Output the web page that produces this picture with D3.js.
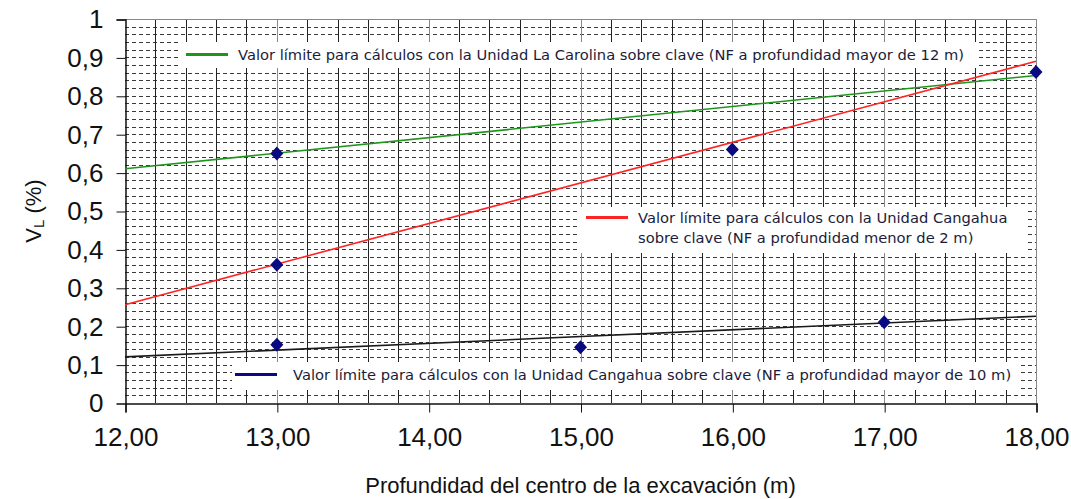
<!DOCTYPE html>
<html>
<head>
<meta charset="utf-8">
<script src="https://cdn.jsdelivr.net/npm/d3@7"></script>
<style>
  body { margin: 0; background: #fff; }
</style>
</head>
<body>
<script>
// data
const xTicks = [12, 13, 14, 15, 16, 17, 18];
const yTicks = [0, 0.1, 0.2, 0.3, 0.4, 0.5, 0.6, 0.7, 0.8, 0.9, 1];
const pointDepth = [13, 13, 13, 15, 16, 17, 18];
const pointVL = [0.65, 0.36, 0.152, 0.145, 0.66, 0.21, 0.862];
// trend lines (value at 12 m and at 18 m)
const trendColors = ["#1e961e", "#ff2424", "#1a1a1a"];
const trendStart = [0.61, 0.256, 0.12];
const trendEnd = [0.853, 0.89, 0.226];
const legendColors = ["#1e961e", "#ff2424", "#0a0a80"];
const legendText = [
  ["Valor límite para cálculos con la Unidad La Carolina sobre clave (NF a profundidad mayor de 12 m)"],
  ["Valor límite para cálculos con la Unidad Cangahua", "sobre clave (NF a profundidad menor de 2 m)"],
  ["Valor límite para cálculos con la Unidad Cangahua sobre clave (NF a profundidad mayor de 10 m)"]
];

let W = 1071, H = 499;
let margins = { left: 125, top: 19, right: 35, bottom: 96 };
let width = W - margins.left - margins.right;
let height = H - margins.top - margins.bottom;

let svg = d3.select("body").append("svg")
  .attr("width", W)
  .attr("height", H);

let locale = d3.formatLocale({ decimal: ",", thousands: ".", grouping: [3], currency: ["", ""] });

let xScale = d3.scaleLinear().domain([12, 18]).range([margins.left, margins.left + width]);
let yScale = d3.scaleLinear().domain([0, 1]).range([margins.top + height, margins.top]);

// horizontal dashed grid every 0.02
let grid = svg.append("g");
grid.selectAll("line.h")
  .data(yScale.ticks(50).filter(d => d > 0))
  .join("line")
  .attr("x1", margins.left)
  .attr("x2", margins.left + width)
  .attr("y1", d => Math.round(yScale(d)) + 0.5)
  .attr("y2", d => Math.round(yScale(d)) + 0.5)
  .attr("stroke", "#3a3a3a")
  .attr("stroke-dasharray", "4,3");

// vertical solid grid every 0.2
grid.selectAll("line.v")
  .data(xScale.ticks(30).filter(d => d > 12))
  .join("line")
  .attr("x1", d => Math.round(xScale(d)) + 0.5)
  .attr("x2", d => Math.round(xScale(d)) + 0.5)
  .attr("y1", margins.top)
  .attr("y2", margins.top + height)
  .attr("stroke", d => Number.isInteger(Math.round(d * 10) / 10) ? "#888" : "#222");

// plot frame top / right
svg.append("path")
  .attr("d", `M${margins.left},${margins.top + 0.5}H${Math.round(xScale(18)) + 0.5}V${margins.top + height}`)
  .attr("fill", "none")
  .attr("stroke", "#888");

// axes
let xAxis = d3.axisBottom(xScale)
  .tickValues(xTicks)
  .tickSize(9)
  .tickFormat(locale.format(".2f"));
let xAxisG = svg.append("g")
  .attr("transform", `translate(0.5, ${Math.round(yScale(0)) + 0.5})`)
  .call(xAxis);

let yAxis = d3.axisLeft(yScale)
  .tickValues(yTicks)
  .tickSize(9)
  .tickFormat(locale.format(".1~f"));
let yAxisG = svg.append("g")
  .attr("transform", `translate(${margins.left + 0.5}, 0.5)`)
  .call(yAxis);

[xAxisG, yAxisG].forEach(g => {
  g.select(".domain").attr("stroke", "#111").attr("stroke-width", 1.5);
  g.selectAll(".tick line").attr("stroke", "#111");
  g.selectAll("text")
    .attr("font-family", "'Liberation Sans', Arial, sans-serif")
    .attr("font-size", 26)
    .attr("fill", "#111");
});
xAxisG.selectAll("text").attr("y", 24).attr("dy", "0.71em");
yAxisG.selectAll("text").attr("x", -22);
yAxisG.selectAll(".tick").filter(d => d === 0).select("line").attr("x2", 0);

// trend lines
svg.append("g").selectAll("line")
  .data(trendColors)
  .join("line")
  .attr("x1", xScale(12))
  .attr("x2", xScale(18))
  .attr("y1", (d, i) => yScale(trendStart[i]))
  .attr("y2", (d, i) => yScale(trendEnd[i]))
  .attr("stroke", d => d)
  .attr("stroke-width", 1.6);

// data points (navy diamonds)
svg.append("g").selectAll("path")
  .data(pointDepth)
  .join("path")
  .attr("transform", (d, i) => `translate(${xScale(d)}, ${yScale(pointVL[i])})`)
  .attr("d", "M0,-7L6.5,0L0,7L-6.5,0Z")
  .attr("fill", "#0a0a80");

// legends: [x, y, w, h] of the white box
let legendBoxes = [[180, 42, 796, 26], [580, 207, 448, 46], [232, 362, 786, 28]];
let legendG = svg.append("g").selectAll("g")
  .data(legendText)
  .join("g")
  .attr("transform", (d, i) => `translate(${legendBoxes[i][0]}, ${legendBoxes[i][1]})`);
legendG.append("rect")
  .attr("width", (d, i) => legendBoxes[i][2])
  .attr("height", (d, i) => legendBoxes[i][3])
  .attr("fill", "#fff");
legendG.append("line")
  .attr("x1", (d, i) => i === 2 ? 3 : 6)
  .attr("x2", (d, i) => i === 2 ? 45 : 48)
  .attr("y1", (d, i) => i === 1 ? 10.5 : 12.5)
  .attr("y2", (d, i) => i === 1 ? 10.5 : 12.5)
  .attr("stroke", (d, i) => legendColors[i])
  .attr("stroke-width", 3);
legendG.each(function (lines, i) {
  let t = d3.select(this).append("text")
    .attr("font-family", "'DejaVu Sans', Verdana, sans-serif")
    .attr("font-size", 14.7)
    .attr("fill", "#1c1c3a");
  lines.forEach((s, k) => {
    t.append("tspan")
      .attr("x", i === 2 ? 61 : 58)
      .attr("y", (i === 1 ? 16 : 18) + k * 20)
      .text(s);
  });
});

// axis titles
svg.append("text")
  .attr("x", xScale(15))
  .attr("y", 493)
  .attr("text-anchor", "middle")
  .attr("font-family", "'Liberation Sans', Arial, sans-serif")
  .attr("font-size", 22)
  .attr("fill", "#111")
  .text("Profundidad del centro de la excavación (m)");

let yLabel = svg.append("text")
  .attr("transform", `translate(41, ${yScale(0.5)}) rotate(-90)`)
  .attr("text-anchor", "middle")
  .attr("font-family", "'Liberation Sans', Arial, sans-serif")
  .attr("font-size", 22)
  .attr("fill", "#111");
yLabel.append("tspan").text("V");
yLabel.append("tspan").attr("font-size", 15).attr("dy", 3).text("L");
yLabel.append("tspan").attr("dy", -3).text(" (%)");
</script>
</body>
</html>
